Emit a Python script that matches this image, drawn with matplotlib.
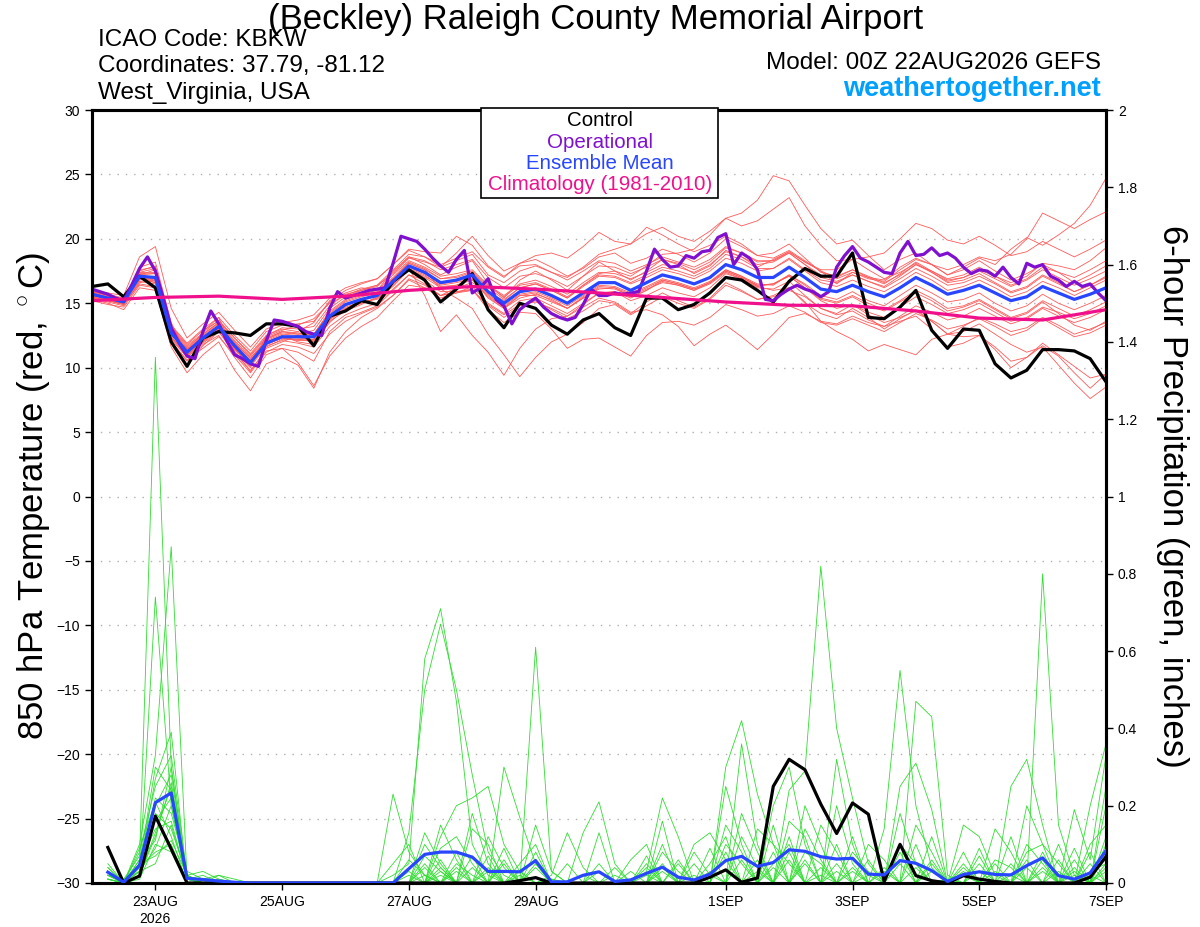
import numpy as np
import matplotlib
matplotlib.use("Agg")
import matplotlib.pyplot as plt
from matplotlib.patches import Rectangle

plt.rcParams['font.family'] = ['Liberation Sans', 'DejaVu Sans']
plt.rcParams['mathtext.fontset'] = 'custom'
plt.rcParams['mathtext.rm'] = 'Liberation Sans'

# ---- data (6-hourly from 00Z 22AUG, operational 3-hourly) ----
control_t = [16.3, 16.5, 15.5, 17.1, 16.2, 12.0, 10.1, 12.3, 12.8, 12.7, 12.5, 13.4, 13.4, 13.2, 11.7,
             14.0, 14.4, 15.2, 14.9, 16.7, 17.6, 16.8, 15.1, 16.1, 17.3, 14.5, 13.1, 15.0, 14.6, 13.3,
             12.6, 13.7, 14.2, 13.1, 12.5, 15.4, 15.4, 14.5, 14.9, 15.8, 17.0, 16.8, 16.0, 15.1, 16.7,
             17.7, 17.1, 17.1, 18.9, 13.9, 13.8, 14.7, 16.0, 12.9, 11.5, 13.0, 12.9, 10.3, 9.2, 9.8,
             11.4, 11.4, 11.3, 10.7, 8.9]

mean_t = [15.7, 15.4, 15.1, 17.1, 17.0, 12.7, 11.2, 12.3, 13.2, 11.7, 10.4, 11.9, 12.4, 12.4, 12.4,
          14.0, 14.9, 15.3, 15.6, 16.7, 17.9, 17.4, 16.6, 16.8, 17.2, 15.9, 15.0, 15.9, 16.1, 15.6,
          15.0, 15.8, 16.6, 16.6, 16.0, 16.6, 17.2, 16.9, 16.5, 17.0, 18.0, 17.6, 17.0, 17.0, 17.8,
          17.0, 16.1, 15.9, 16.4, 15.9, 15.5, 16.2, 17.0, 16.4, 15.7, 16.0, 16.4, 15.8, 15.2, 15.5,
          16.3, 15.8, 15.3, 15.7, 16.2]

oper_t = [16.1, 15.9, 15.7, 15.4, 15.2, 16.4, 17.7, 18.6, 17.5, 15.4, 13.1, 11.9, 10.9, 10.7, 12.8,
          14.4, 13.4, 12.1, 11.0, 10.7, 10.3, 10.1, 12.1, 13.7, 13.6, 13.4, 13.2, 12.8, 12.6, 12.5,
          14.6, 15.9, 15.4, 15.6, 15.8, 16.0, 16.1, 16.2, 18.1, 20.2, 20.0, 19.8, 19.2, 18.5, 17.9,
          17.4, 18.4, 19.1, 15.8, 16.2, 16.9, 15.3, 14.8, 13.4, 14.5, 15.0, 15.4, 14.7, 14.2, 13.9,
          13.7, 13.9, 14.9, 16.1, 15.6, 15.6, 15.8, 15.7, 15.8, 15.9, 17.5, 19.2, 18.4, 17.8, 17.9,
          18.7, 18.5, 19.0, 19.1, 20.1, 20.4, 18.0, 18.9, 18.5, 17.6, 15.3, 15.2, 15.7, 16.1, 16.4,
          16.1, 15.9, 15.5, 15.9, 17.8, 18.7, 19.4, 18.5, 18.2, 17.8, 17.4, 17.3, 18.9, 19.8, 18.7,
          18.8, 19.3, 18.7, 18.9, 18.5, 17.8, 17.3, 17.6, 17.5, 17.1, 17.8, 17.0, 16.5, 18.1, 17.8,
          18.0, 17.1, 16.8, 16.3, 16.7, 16.3, 16.5, 15.8, 15.2]

# climatology, daily at 00Z
clim_t = [15.2, 15.45, 15.55, 15.3, 15.55, 16.0, 16.3, 16.1, 15.8, 15.45, 15.1, 14.85, 14.8,
          14.4, 13.85, 13.7, 14.5]

members_t = [
    [15.5, 15.2, 15.0, 17.8, 18.2, 13.5, 11.0, 12.8, 13.9, 11.2, 10.0, 12.5, 13.0, 12.8, 13.5,
     15.2, 15.8, 16.2, 16.0, 17.5, 18.6, 18.0, 17.2, 17.8, 18.3, 16.5, 15.4, 16.8, 17.5, 16.8,
     16.0, 17.1, 18.2, 17.5, 16.8, 17.5, 18.4, 18.0, 17.3, 17.9, 19.1, 18.6, 17.8, 18.4, 19.0,
     18.2, 17.5, 16.5, 17.4, 17.0, 16.8, 17.8, 18.5, 18.0, 17.2, 17.8, 18.5, 18.0, 19.2, 20.1,
     19.5, 20.3, 21.2, 22.6, 24.7],
    [15.9, 15.6, 14.9, 16.5, 16.3, 12.0, 10.5, 11.8, 12.5, 10.8, 9.2, 11.0, 11.5, 11.2, 10.5,
     12.8, 13.9, 14.3, 14.8, 16.0, 17.2, 16.5, 15.6, 15.9, 16.0, 14.8, 13.9, 14.8, 15.2, 14.5,
     13.8, 14.4, 15.2, 15.0, 14.2, 15.1, 15.8, 15.2, 14.7, 15.4, 16.6, 16.0, 15.3, 15.6, 16.2,
     15.0, 14.2, 13.8, 14.6, 13.9, 13.0, 13.8, 14.5, 13.6, 12.6, 12.8, 13.4, 12.6, 11.8, 11.2,
     11.6, 10.2, 8.8, 7.6, 8.5],
    [15.6, 15.3, 15.3, 17.5, 17.9, 13.2, 11.8, 12.9, 13.6, 12.3, 11.0, 12.4, 12.9, 13.3, 13.8,
     15.0, 15.6, 16.1, 16.4, 17.3, 18.5, 18.2, 17.8, 18.3, 18.8, 17.2, 16.6, 17.5, 17.9, 17.4,
     17.0, 17.8, 18.8, 19.2, 19.6, 20.4, 20.9, 20.2, 19.8, 20.6, 21.6, 22.0, 23.0, 24.9, 24.5,
     22.6, 20.8, 19.6, 19.9, 18.7, 17.6, 18.4, 18.9, 18.0, 17.2, 17.6, 18.3, 17.5, 16.8, 17.3,
     18.0, 17.4, 16.6, 17.2, 17.9],
    [15.4, 15.1, 14.8, 16.7, 16.5, 12.1, 10.1, 11.7, 12.8, 11.3, 9.7, 11.5, 12.0, 12.5, 12.0,
     13.5, 14.6, 15.0, 15.4, 16.3, 17.6, 17.0, 16.2, 16.4, 16.9, 15.4, 14.6, 15.6, 15.6, 15.1,
     14.6, 15.4, 16.1, 16.2, 15.5, 16.0, 16.8, 16.5, 16.1, 16.6, 17.6, 17.1, 16.5, 16.4, 17.2,
     16.5, 15.6, 15.3, 15.9, 15.2, 14.8, 15.6, 16.4, 15.8, 15.1, 15.3, 15.8, 15.0, 14.4, 14.8,
     15.7, 15.0, 14.5, 15.0, 15.6],
    [15.8, 15.5, 15.2, 17.0, 16.8, 12.5, 11.5, 12.0, 13.0, 11.9, 10.8, 12.0, 12.5, 12.0, 11.8,
     13.8, 14.5, 15.2, 15.8, 16.9, 18.1, 17.6, 16.1, 15.4, 14.6, 12.6, 11.0, 9.3, 10.8, 12.0,
     12.6, 13.5, 14.6, 14.9, 14.1, 14.8, 15.5, 15.0, 14.6, 15.3, 16.4, 15.9, 15.3, 15.5, 16.0,
     15.5, 14.6, 14.2, 14.9, 14.3, 13.9, 14.7, 15.5, 14.9, 14.2, 14.5, 15.0, 14.3, 13.6, 13.9,
     14.7, 14.3, 13.8, 14.2, 14.8],
    [15.3, 15.0, 14.5, 16.2, 16.0, 11.6, 9.6, 11.0, 12.0, 9.8, 8.2, 10.3, 10.8, 10.2, 8.4,
     11.2, 12.8, 13.9, 14.6, 15.6, 16.8, 16.2, 15.4, 15.8, 16.3, 15.0, 14.2, 15.2, 15.4, 14.8,
     14.2, 15.0, 15.8, 15.9, 15.2, 15.6, 16.2, 15.8, 15.5, 16.2, 17.3, 16.9, 16.3, 16.5, 17.1,
     16.2, 15.3, 15.0, 15.5, 14.8, 14.4, 15.1, 15.8, 15.2, 14.4, 14.7, 15.2, 14.5, 13.8, 14.2,
     15.1, 14.2, 13.3, 12.9, 13.6],
    [16.0, 15.8, 15.6, 18.6, 19.4, 14.6, 12.3, 13.4, 14.3, 12.9, 11.6, 13.0, 13.5, 13.7, 14.1,
     15.4, 16.2, 16.6, 16.9, 18.0, 19.1, 18.6, 17.8, 18.9, 20.2, 18.7, 17.5, 18.1, 18.4, 17.8,
     17.1, 17.7, 18.6, 18.9, 18.1, 18.5, 19.2, 18.8, 18.2, 18.9, 20.0, 19.4, 18.7, 18.9, 19.6,
     18.5, 17.4, 17.1, 17.6, 17.0, 16.5, 17.3, 18.2, 17.5, 16.9, 17.2, 17.8, 17.1, 16.4, 16.9,
     17.8, 17.4, 17.0, 17.6, 18.3],
    [15.7, 15.4, 15.0, 17.3, 17.4, 12.9, 11.4, 12.5, 13.4, 11.9, 10.5, 12.2, 12.8, 12.7, 12.6,
     14.4, 15.3, 15.7, 16.0, 17.2, 18.3, 17.8, 17.1, 17.3, 17.6, 16.4, 15.6, 16.5, 16.8, 16.3,
     15.7, 16.6, 17.4, 17.3, 16.9, 17.4, 18.0, 17.8, 17.4, 18.0, 19.0, 18.6, 18.0, 18.2, 18.9,
     18.0, 17.2, 16.9, 17.4, 16.9, 16.7, 17.6, 18.4, 18.0, 17.6, 18.0, 18.6, 18.3, 18.8, 20.0,
     22.0, 21.4, 20.8, 21.5, 22.1],
    [15.5, 15.2, 14.9, 16.8, 16.9, 12.4, 11.0, 12.1, 13.0, 11.4, 10.2, 11.8, 12.3, 12.1, 12.2,
     13.8, 14.7, 15.1, 15.3, 16.4, 17.6, 17.1, 16.4, 16.6, 16.9, 15.5, 14.6, 15.4, 15.7, 15.3,
     14.6, 15.4, 16.2, 16.1, 15.6, 16.1, 16.6, 16.4, 16.0, 16.5, 17.4, 16.9, 16.2, 16.1, 16.7,
     15.6, 14.6, 14.1, 14.4, 13.7, 13.2, 13.6, 14.0, 13.0, 11.6, 11.9, 12.5, 11.6, 10.5, 10.8,
     11.7, 10.9, 9.6, 8.4, 9.5],
    [15.6, 15.3, 15.1, 17.2, 17.6, 13.0, 11.6, 12.6, 13.5, 12.1, 10.9, 12.3, 12.8, 12.6, 12.9,
     14.6, 15.5, 16.0, 16.4, 17.6, 18.8, 18.6, 18.0, 18.5, 19.0, 17.8, 17.0, 18.1, 18.7, 18.9,
     18.5, 19.4, 20.5, 19.8, 19.6, 20.9, 20.3, 19.6, 19.0, 19.5, 20.2, 19.6, 18.7, 18.5, 19.1,
     18.3, 17.5, 17.0, 17.6, 17.1, 16.6, 17.2, 18.0, 17.5, 16.8, 17.0, 17.5, 16.9, 16.3, 16.8,
     17.6, 17.0, 16.4, 16.9, 17.5],
    [15.9, 15.6, 15.3, 16.9, 16.6, 12.3, 10.9, 12.0, 12.9, 11.6, 10.3, 11.7, 12.1, 11.9, 11.6,
     13.2, 14.1, 14.6, 15.0, 16.1, 17.2, 16.8, 15.9, 15.9, 16.1, 14.5, 13.5, 14.3, 14.2, 13.0,
     11.5, 12.2, 12.3, 11.6, 10.9, 12.5, 13.5, 13.6, 13.3, 13.9, 14.9, 14.5, 14.0, 14.2, 14.8,
     14.3, 13.5, 13.3, 13.8, 13.3, 12.8, 13.5, 14.2, 13.7, 13.0, 13.3, 13.8, 13.2, 12.5, 12.9,
     13.8, 13.1, 12.4, 12.7, 13.3],
    [15.2, 14.9, 14.7, 16.4, 16.2, 12.0, 10.6, 11.5, 12.4, 11.0, 9.6, 11.2, 11.8, 11.6, 11.1,
     12.6, 13.6, 14.2, 14.7, 15.6, 16.9, 16.4, 15.6, 15.8, 16.0, 14.9, 14.1, 14.9, 15.1, 14.6,
     14.0, 14.7, 15.4, 15.1, 14.3, 14.5, 14.1, 13.2, 11.7, 12.6, 13.3, 12.4, 11.4, 12.6, 13.9,
     14.2, 13.6, 13.4, 14.0, 13.5, 13.2, 14.0, 14.8, 14.3, 13.7, 14.0, 14.6, 14.0, 13.4, 13.8,
     14.6, 14.0, 13.5, 13.9, 14.5],
    [15.6, 15.4, 15.0, 17.0, 16.9, 12.6, 11.3, 12.2, 13.1, 11.6, 10.4, 11.9, 12.4, 12.3, 12.2,
     13.9, 14.8, 15.3, 15.6, 16.6, 17.8, 17.3, 16.5, 16.7, 17.0, 15.7, 14.8, 15.7, 15.9, 15.4,
     14.8, 15.6, 16.4, 16.3, 15.8, 16.3, 16.9, 16.6, 16.2, 16.7, 17.6, 17.1, 16.3, 16.0, 16.2,
     15.1, 13.6, 12.8, 12.2, 11.3, 11.8, 11.4, 11.0, 12.2, 12.6, 13.2, 13.9, 13.4, 12.8, 13.1,
     13.9, 13.3, 12.6, 13.0, 13.5],
    [15.8, 15.5, 15.1, 17.4, 17.7, 13.1, 11.7, 12.7, 13.7, 12.3, 11.1, 12.5, 13.1, 13.0, 13.2,
     14.8, 15.7, 16.0, 16.3, 17.4, 18.6, 18.3, 17.6, 18.0, 18.4, 17.0, 16.2, 17.1, 17.3, 16.9,
     16.3, 17.1, 17.9, 17.8, 17.3, 17.8, 18.4, 18.1, 17.6, 18.2, 19.3, 18.9, 18.2, 18.3, 19.0,
     18.2, 17.6, 17.6, 18.4, 18.6, 18.9, 20.0, 21.2, 20.8, 19.9, 19.6, 20.2, 19.5, 18.7, 19.0,
     19.8, 19.2, 18.6, 19.2, 19.9],
    [15.4, 15.2, 14.9, 16.6, 16.8, 12.8, 11.2, 12.1, 13.1, 11.5, 10.1, 11.6, 12.2, 12.2, 12.0,
     13.6, 14.4, 14.9, 15.5, 16.8, 17.7, 15.6, 12.8, 14.1, 12.5, 11.2, 9.4, 11.5, 13.0, 13.8,
     14.0, 14.9, 15.8, 15.9, 15.4, 16.0, 16.7, 16.4, 16.0, 16.6, 17.5, 17.0, 16.4, 16.5, 17.2,
     16.4, 15.4, 15.1, 15.6, 15.0, 14.5, 15.2, 16.0, 15.4, 14.6, 14.8, 15.3, 14.6, 13.9, 14.3,
     15.2, 14.6, 14.0, 14.5, 15.1],
    [15.7, 15.3, 15.0, 16.9, 16.6, 12.2, 10.8, 11.9, 12.8, 11.1, 9.8, 11.3, 11.5, 10.4, 8.6,
     10.9, 12.3, 13.2, 13.9, 15.2, 16.4, 16.2, 15.6, 16.2, 16.6, 15.9, 15.2, 16.2, 16.5, 16.0,
     15.4, 16.3, 17.1, 17.0, 16.5, 17.0, 17.6, 17.3, 16.9, 17.5, 18.5, 18.1, 17.5, 17.7, 18.4,
     17.5, 16.6, 16.3, 16.8, 16.3, 15.9, 16.6, 17.4, 16.8, 16.0, 16.3, 16.8, 16.2, 15.5, 15.9,
     16.7, 16.2, 15.6, 16.2, 16.8],
    [15.9, 15.7, 15.4, 17.6, 17.8, 13.3, 11.9, 13.0, 13.9, 12.5, 11.3, 12.8, 13.3, 13.4, 13.6,
     15.1, 16.0, 16.5, 16.9, 18.0, 19.2, 19.0, 18.9, 20.2, 19.5, 17.9, 17.1, 17.9, 18.0, 17.4,
     16.8, 17.5, 18.3, 18.1, 17.5, 18.0, 18.6, 18.2, 17.8, 18.4, 19.4, 18.9, 18.3, 18.3, 18.9,
     18.0, 17.0, 16.7, 17.2, 16.7, 16.2, 16.9, 17.7, 17.1, 16.4, 16.6, 17.1, 16.5, 15.8, 16.2,
     17.1, 16.5, 15.9, 16.4, 17.0],
    [15.5, 15.2, 15.0, 17.2, 17.3, 12.8, 11.4, 12.4, 13.3, 11.8, 10.6, 12.1, 12.6, 12.5, 12.6,
     14.3, 15.2, 15.6, 15.9, 17.0, 18.2, 17.7, 16.9, 17.0, 17.4, 16.2, 15.3, 16.2, 16.5, 16.0,
     15.4, 16.4, 17.3, 17.5, 17.1, 17.9, 18.8, 18.9, 19.2, 20.3, 21.6, 21.0, 21.4, 22.3, 23.2,
     21.0, 19.5, 18.3, 18.4, 17.6, 16.9, 17.4, 18.1, 17.4, 16.6, 16.8, 17.3, 16.6, 15.9, 16.3,
     17.2, 16.6, 15.9, 16.4, 17.1],
    [15.6, 15.4, 15.2, 16.9, 16.7, 12.4, 10.9, 12.2, 13.0, 11.5, 10.2, 11.8, 12.3, 12.2, 12.1,
     13.7, 14.6, 15.0, 15.4, 16.5, 17.7, 17.2, 16.3, 16.4, 16.8, 15.6, 14.7, 15.6, 15.8, 15.2,
     14.6, 15.5, 16.3, 16.2, 15.7, 16.2, 16.8, 16.5, 16.1, 16.6, 17.5, 17.0, 16.4, 16.5, 17.1,
     16.2, 15.2, 14.6, 14.9, 14.1, 13.5, 13.9, 14.4, 13.6, 12.6, 12.4, 12.5, 11.4, 10.0, 10.8,
     11.9, 11.0, 10.1, 9.2, 9.5],
    [15.8, 15.5, 15.2, 17.4, 17.3, 12.9, 11.5, 12.6, 13.5, 12.0, 10.7, 12.2, 12.7, 12.6, 12.6,
     14.2, 15.1, 15.5, 15.8, 16.9, 18.1, 17.6, 16.9, 17.1, 17.5, 16.3, 15.5, 16.4, 16.6, 16.1,
     15.5, 16.4, 17.2, 17.1, 16.6, 17.2, 17.8, 17.5, 17.1, 17.7, 18.8, 18.4, 17.7, 17.7, 18.5,
     17.6, 16.8, 16.6, 17.2, 16.7, 16.3, 17.1, 18.0, 17.4, 16.7, 17.0, 17.6, 17.1, 16.6, 17.1,
     18.1, 17.9, 17.6, 18.3, 19.3],
]

# 6-hour precip, steps 1..64
control_p = [0.092, 0, 0.018, 0.173, 0.088, 0, 0, 0, 0, 0, 0, 0, 0, 0, 0, 0, 0, 0, 0, 0,
             0, 0, 0, 0, 0, 0, 0.006, 0.014, 0, 0, 0, 0, 0, 0, 0, 0, 0, 0, 0.015, 0.034,
             0.002, 0.013, 0.25, 0.32, 0.293, 0.204, 0.128, 0.207, 0.178, 0.004, 0.10, 0.019, 0.006, 0,
             0.019, 0.010, 0.004, 0, 0, 0, 0, 0, 0.015, 0.068]

mean_p = [0.028, 0.002, 0.046, 0.208, 0.233, 0.012, 0.009, 0.005, 0.002, 0, 0, 0, 0, 0, 0, 0,
          0, 0, 0, 0.037, 0.074, 0.080, 0.080, 0.067, 0.030, 0.030, 0.029, 0.058, 0.003, 0.003,
          0.020, 0.029, 0.004, 0.008, 0.025, 0.041, 0.015, 0.008, 0.023, 0.058, 0.069, 0.043,
          0.053, 0.086, 0.082, 0.068, 0.062, 0.064, 0.023, 0.021, 0.058, 0.051, 0.032, 0.004,
          0.022, 0.029, 0.022, 0.021, 0.045, 0.065, 0.019, 0.010, 0.026, 0.084]

# ensemble members, only non-zero steps listed {step: inches}
members_p = [
    {1: .03, 3: .06, 4: 1.36, 5: .30, 6: .01, 19: .02, 20: .05, 21: .58, 22: .71, 23: .47, 24: .10,
     25: .02, 28: .05, 36: .05, 40: .30, 41: .42, 42: .23, 43: .10, 44: .05, 46: .02, 51: .10,
     52: .05, 59: .08, 60: .10, 61: .05, 64: .05},
    {1: .05, 3: .02, 4: .74, 5: .20, 6: .02, 7: .03, 8: .01, 20: .13, 21: .50, 22: .67, 23: .50,
     24: .28, 25: .08, 26: .02, 32: .03, 35: .05, 38: .10, 39: .13, 40: .06, 44: .24, 45: .29,
     46: .82, 47: .40, 48: .22, 49: .05, 55: .03, 62: .04},
    {1: .02, 3: .10, 4: .33, 5: .87, 6: .01, 19: .23, 20: .08, 21: .02, 23: .05, 24: .02, 28: .61,
     29: .03, 36: .10, 41: .36, 42: .10, 50: .14, 51: .55, 52: .20, 53: .04, 60: .80, 61: .15,
     62: .02},
    {1: .01, 3: .04, 4: .27, 5: .39, 8: .02, 9: .01, 22: .12, 23: .20, 24: .22, 25: .25, 26: .10,
     27: .03, 31: .13, 32: .21, 33: .05, 40: .25, 41: .10, 47: .32, 48: .10, 52: .47, 53: .43,
     54: .02, 58: .25, 59: .32, 60: .15},
    {1: .04, 3: .08, 4: .25, 5: .33, 6: .02, 21: .13, 22: .05, 26: .30, 27: .17, 28: .05, 35: .03,
     36: .22, 37: .12, 43: .20, 44: .30, 45: .10, 51: .25, 52: .31, 53: .19, 55: .15, 56: .12,
     57: .02, 63: .20, 64: .36},
    {1: .02, 2: .01, 3: .03, 4: .20, 5: .28, 6: .01, 7: .01, 8: .02, 21: .10, 22: .04, 24: .18,
     25: .05, 29: .02, 30: .13, 31: .04, 36: .16, 39: .05, 40: .12, 43: .15, 45: .08, 46: .05,
     51: .10, 53: .05, 57: .14, 58: .08, 62: .19, 63: .06, 64: .33},
    {1: .03, 3: .05, 4: .30, 5: .24, 6: .02, 19: .05, 20: .10, 22: .15, 23: .06, 28: .15, 29: .03,
     32: .13, 37: .05, 41: .18, 42: .08, 44: .12, 47: .20, 48: .05, 56: .07, 59: .20, 60: .10,
     64: .20},
    {1: .01, 3: .03, 4: .22, 5: .18, 6: .03, 7: .01, 21: .07, 22: .03, 25: .12, 26: .04, 34: .06,
     35: .10, 40: .15, 41: .08, 45: .20, 46: .10, 49: .10, 50: .06, 55: .08, 58: .12, 61: .06,
     63: .10, 64: .15},
    {1: .02, 2: .01, 3: .07, 4: .16, 5: .22, 6: .01, 20: .06, 21: .02, 24: .14, 25: .10, 27: .05,
     28: .10, 33: .04, 38: .08, 39: .02, 42: .14, 43: .10, 48: .08, 49: .03, 52: .15, 53: .08,
     56: .05, 59: .10, 60: .05, 64: .10},
    {3: .02, 4: .13, 5: .25, 6: .02, 8: .01, 22: .09, 23: .12, 24: .05, 26: .06, 30: .05, 36: .08,
     37: .03, 44: .16, 45: .12, 47: .05, 51: .18, 52: .05, 57: .06, 58: .04, 62: .09, 64: .25},
    {1: .03, 3: .06, 4: .11, 5: .30, 6: .01, 21: .04, 23: .08, 28: .04, 32: .05, 35: .07, 40: .10,
     41: .05, 45: .06, 48: .12, 53: .12, 55: .05, 60: .06, 63: .05},
    {1: .02, 3: .04, 4: .18, 5: .14, 6: .02, 22: .06, 25: .07, 29: .01, 39: .09, 43: .08, 46: .15,
     47: .08, 50: .04, 54: .01, 56: .09, 61: .10, 64: .12},
    {1: .01, 3: .03, 4: .09, 5: .20, 20: .03, 23: .04, 26: .09, 34: .03, 41: .12, 42: .04, 44: .08,
     49: .06, 51: .08, 57: .05, 59: .06, 63: .08},
    {1: .04, 3: .05, 4: .14, 5: .16, 6: .01, 21: .05, 24: .07, 27: .03, 36: .04, 38: .05, 45: .14,
     46: .06, 52: .10, 55: .04, 60: .04, 62: .06, 64: .08},
    {1: .02, 3: .09, 4: .21, 5: .12, 22: .03, 25: .04, 28: .08, 31: .02, 37: .06, 43: .05, 44: .10,
     47: .10, 53: .06, 58: .05, 63: .03, 64: .05},
    {1: .03, 3: .02, 4: .12, 5: .26, 6: .01, 7: .02, 23: .03, 26: .05, 35: .02, 40: .08, 42: .06,
     48: .04, 51: .05, 56: .03, 60: .08, 62: .02},
    {1: .01, 3: .04, 4: .08, 5: .10, 21: .02, 24: .04, 33: .02, 39: .03, 41: .06, 46: .04, 50: .03,
     54: .01, 57: .03, 61: .03, 64: .04},
    {1: .02, 3: .03, 4: .05, 5: .15, 6: .01, 22: .02, 27: .02, 36: .03, 43: .04, 45: .05, 49: .02,
     52: .04, 59: .04, 63: .02},
    {1: .01, 3: .01, 4: .10, 5: .08, 20: .02, 25: .03, 38: .02, 44: .06, 47: .03, 53: .03, 58: .02,
     64: .03},
    {1: .02, 3: .05, 4: .07, 5: .11, 6: .02, 22: .04, 29: .01, 35: .04, 42: .03, 48: .03, 55: .02,
     60: .03, 62: .03},
]

tick_days = [1, 3, 5, 7, 10, 12, 14, 16]
tick_labels = ['23AUG\n2026', '25AUG', '27AUG', '29AUG', '1SEP', '3SEP', '5SEP', '7SEP']

# ---- plotting ----
t6 = np.arange(65) * 0.25
t3 = np.arange(129) * 0.125
tclim = np.arange(17)
tp = np.arange(1, 65) * 0.25

fig = plt.figure(figsize=(12, 9.27), dpi=100)
ax = fig.add_axes([92/1200, 1 - 883/927, 1014/1200, 773/927])

for m in members_t:
    ax.plot(t6, m, color='#ff5a5a', lw=0.6, zorder=2)
ax.plot(t6, control_t, color='black', lw=2.3, zorder=4)
ax.plot(t3, oper_t, color='#8010d0', lw=2.3, zorder=5)
ax.plot(t6, mean_t, color='#2846ff', lw=2.3, zorder=6)
ax.plot(tclim, clim_t, color='#f0108c', lw=2.3, zorder=7)

ax.set_xlim(0, 16)
ax.set_ylim(-30, 30)
ax.set_yticks(np.arange(-30, 31, 5))
ax.set_xticks(tick_days)
ax.set_xticklabels(tick_labels)
for y in range(-25, 30, 5):
    ax.axhline(y, color='#b0b0b0', lw=1.0, ls=(0, (1, 5)), zorder=1)

ax2 = ax.twinx()
for d in members_p:
    vals = [d.get(k, 0.0) for k in range(1, 65)]
    ax2.plot(tp, vals, color='#30dd30', lw=0.6, zorder=2)
ax2.plot(tp, control_p, color='black', lw=2.3, zorder=4)
ax2.plot(tp, mean_p, color='#2846ff', lw=2.3, zorder=5)
ax2.set_ylim(0, 2)
ax2.set_yticks(np.arange(0, 2.01, 0.2))
ax2.set_yticklabels(['0', '0.2', '0.4', '0.6', '0.8', '1', '1.2', '1.4', '1.6', '1.8', '2'])
ax2.set_xlim(0, 16)

for a in (ax, ax2):
    for s in a.spines.values():
        s.set_linewidth(2.2)
    a.tick_params(labelsize=10, length=5, width=1, direction='out')
ax.tick_params(axis='x', pad=4)

fig.text(0.496, 1 - 19/927, '(Beckley) Raleigh County Memorial Airport', fontsize=25,
         ha='center', va='center')
fig.text(98/1200, 1 - 40/927, 'ICAO Code: KBKW', fontsize=17.5, va='center')
fig.text(98/1200, 1 - 66/927, 'Coordinates: 37.79, -81.12', fontsize=17.5, va='center')
fig.text(98/1200, 1 - 93/927, 'West_Virginia, USA', fontsize=17.5, va='center')
fig.text(1101/1200, 1 - 63/927, 'Model: 00Z 22AUG2026 GEFS', fontsize=17.5, ha='right', va='center')
fig.text(1101/1200, 1 - 89/927, 'weathertogether.net', fontsize=19.5, fontweight='bold',
         color='#00a0ff', ha='right', va='center')

fig.text(34/1200, 1 - 496/927, '850 hPa Temperature (red, $^\\circ$C)', fontsize=25,
         rotation=90, ha='center', va='center')
fig.text(1172/1200, 1 - 496/927, '6-hour Precipitation (green, inches)', fontsize=25,
         rotation=270, ha='center', va='center')

# legend box
fig.patches.append(Rectangle((481/1200, 1 - 198/927), 237/1200, 90/927, transform=fig.transFigure,
                             facecolor='white', edgecolor='black', lw=1.2, zorder=5))
legend_items = [('Control', 'black'), ('Operational', '#8010d0'),
                ('Ensemble Mean', '#2846ff'), ('Climatology (1981-2010)', '#f0108c')]
for k, (txt, col) in enumerate(legend_items):
    fig.text(600/1200, 1 - (121 + k * 21.3)/927, txt, color=col, fontsize=14.8,
             ha='center', va='center', zorder=6)

fig.savefig('out.png', dpi=100)
